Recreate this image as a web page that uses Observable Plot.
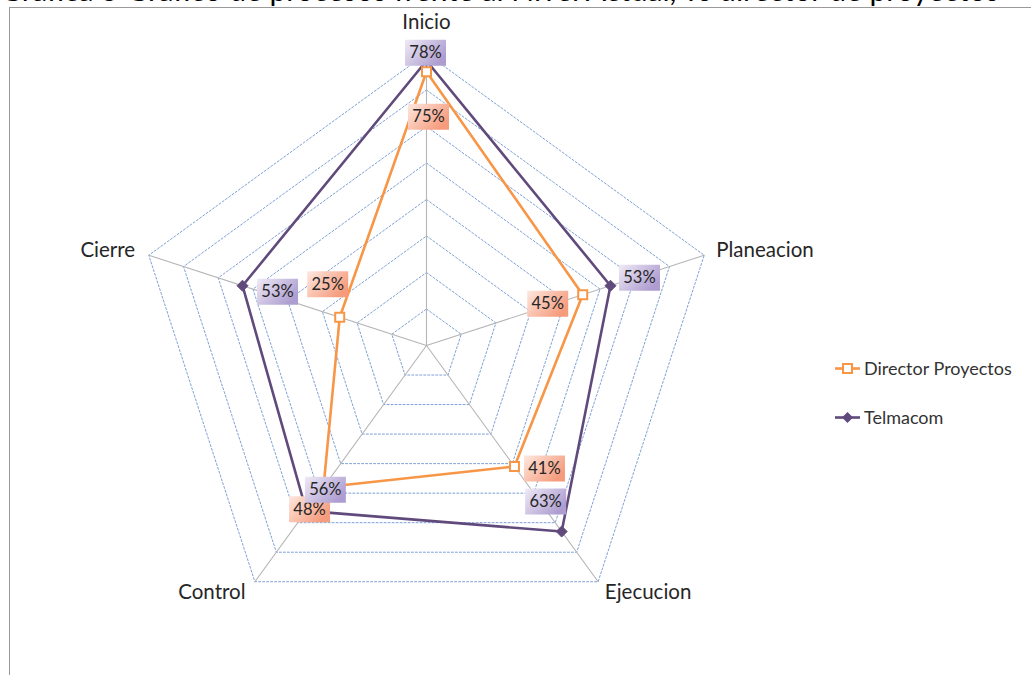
<!DOCTYPE html>
<html>
<head>
<meta charset="utf-8">
<script src="https://cdn.jsdelivr.net/npm/d3@7"></script>
<script src="https://cdn.jsdelivr.net/npm/@observablehq/plot@0.6"></script>
<style>
  html, body { margin: 0; padding: 0; background: #fff; }
  body { width: 1031px; height: 675px; position: relative; overflow: hidden; font-family: Lato, "Open Sans", sans-serif; }
  #title { position: absolute; left: 0; top: -26px; width: 965px; line-height: 30px; text-align: right; white-space: nowrap; font-size: 30px; color: #000; }
  #frame { position: absolute; left: 9px; top: 7px; width: 1040px; height: 700px; border-top: 1.5px solid #9a9a9a; border-left: 1.5px solid #9a9a9a; background: #fff; }
  #chart { position: absolute; left: 0; top: 0; }
  #legend { position: absolute; left: 835px; top: 356px; font-size: 18px; color: #333; }
  #legend .row { display: flex; align-items: center; height: 24px; margin-bottom: 25px; }
  #legend svg { margin-right: 4px; }
</style>
</head>
<body>
<div id="title">Gráfica 5 Gráfico de procesos frente al Nivel Actual, vs director de proyectos</div>
<div id="frame"></div>
<div id="chart"></div>
<div id="legend"></div>
<script>
// ---- data ----
const categories = ["Inicio", "Planeacion", "Ejecucion", "Control", "Cierre"];
const directorValues = [0.75, 0.45, 0.41, 0.48, 0.25];
const telmacomValues = [0.78, 0.53, 0.63, 0.56, 0.53];
const seriesNames = ["Director Proyectos", "Telmacom"];
const gridLevels = [0.1, 0.2, 0.3, 0.4, 0.5, 0.6, 0.7, 0.8];
const axisMax = 0.8;

// ---- layout (pixels) ----
const W = 1031, H = 675, cx = 426, cy = 345, R = 292;
const k = R / axisMax;
const colors = {director: "#f79646", telmacom: "#604a7b"};

const angle = i => Math.PI / 2 - i * 2 * Math.PI / categories.length;
const pt = (v, i) => ({x: v * Math.cos(angle(i)), y: v * Math.sin(angle(i))});

const ring = lvl => [...categories, categories[0]].map((c, i) => ({...pt(lvl, i % categories.length), lvl}));
const gridData = gridLevels.flatMap(ring);
const spokes = categories.flatMap((c, i) => [{...pt(0, i), c}, {...pt(axisMax, i), c}]);

const mkSeries = (vals, name) => vals.map((v, i) => ({...pt(v, i), v, cat: categories[i], name}));
const dir = mkSeries(directorValues, seriesNames[0]);
const tel = mkSeries(telmacomValues, seriesNames[1]);
const closed = arr => [...arr, arr[0]];

const squareSym = {draw(ctx) { ctx.rect(-4.5, -4.5, 9, 9); }};
const diamondSym = {draw(ctx) { ctx.moveTo(0, -5.5); ctx.lineTo(5.5, 0); ctx.lineTo(0, 5.5); ctx.lineTo(-5.5, 0); ctx.closePath(); }};
const boxSym = {draw(ctx) { ctx.rect(-20.5, -13, 41, 26); }};

const dirOffsets = [[2, 45], [-35, 9], [30, 2], [-14, 22], [-12, -33]];
const telOffsets = [[-1, -8], [29, -8], [-16, -30], [19, -21], [35, 6]];
const catOffsets = [[0, -31, "middle"], [12, -5, "start"], [50, 11, "middle"], [-43, 11, "middle"], [-41, -5, "middle"]];

const defs = () => {
  const ns = "http://www.w3.org/2000/svg";
  const d = document.createElementNS(ns, "defs");
  const mk = (id, c1, c2) => {
    const g = document.createElementNS(ns, "linearGradient");
    g.setAttribute("id", id);
    g.setAttribute("x1", "0"); g.setAttribute("y1", "0");
    g.setAttribute("x2", "1"); g.setAttribute("y2", "0.6");
    [[0, c1], [1, c2]].forEach(([o, c]) => {
      const s = document.createElementNS(ns, "stop");
      s.setAttribute("offset", o); s.setAttribute("stop-color", c);
      g.appendChild(s);
    });
    d.appendChild(g);
  };
  mk("gradPurple", "#efeaf6", "#ad9dd0");
  mk("gradOrange", "#fde8e0", "#f69b7c");
  return d;
};

const labelMarks = [];
[[dir, dirOffsets, "url(#gradOrange)"], [tel, telOffsets, "url(#gradPurple)"]].forEach(([data, offs, fill]) => {
  data.forEach((d, i) => {
    const [dx, dy] = offs[i];
    labelMarks.push(Plot.dot([d], {x: "x", y: "y", dx, dy, symbol: boxSym, fill, stroke: "none", r: 5}));
    labelMarks.push(Plot.text([d], {x: "x", y: "y", dx, dy, text: v => Math.round(v.v * 100) + "%", fontSize: 16.5, fill: "#262626", fontFamily: "Lato, sans-serif"}));
  });
});

const catMarks = categories.map((c, i) => {
  const [dx, dy, anchor] = catOffsets[i];
  return Plot.text([{...pt(axisMax, i), c}], {x: "x", y: "y", text: "c", dx, dy, textAnchor: anchor, fontSize: 20.5, fill: "#262626", fontFamily: "Lato, sans-serif"});
});

const chart = Plot.plot({
  width: W, height: H,
  margin: 0,
  x: {domain: [-cx / k, (W - cx) / k], axis: null},
  y: {domain: [-(H - cy) / k, cy / k], axis: null},
  style: {background: "transparent", overflow: "visible"},
  marks: [
    defs,
    Plot.line(gridData, {x: "x", y: "y", z: "lvl", stroke: "#6f95d0", strokeWidth: 0.9, strokeDasharray: "2,2"}),
    Plot.line(spokes, {x: "x", y: "y", z: "c", stroke: "#b5b5b5", strokeWidth: 1.1}),
    Plot.line(closed(dir), {x: "x", y: "y", stroke: colors.director, strokeWidth: 2.6}),
    Plot.line(closed(tel), {x: "x", y: "y", stroke: colors.telmacom, strokeWidth: 2.6}),
    Plot.dot(dir, {x: "x", y: "y", symbol: squareSym, fill: "white", stroke: colors.director, strokeWidth: 2, r: 5}),
    Plot.dot(tel, {x: "x", y: "y", symbol: diamondSym, fill: colors.telmacom, stroke: colors.telmacom, strokeWidth: 1, r: 5}),
    ...labelMarks,
    ...catMarks
  ]
});
document.getElementById("chart").appendChild(chart);

// legend
const legend = document.getElementById("legend");
const swatch = (color, kind) => {
  const marker = kind === "square"
    ? `<rect x="8" y="7" width="9" height="9" fill="white" stroke="${color}" stroke-width="2"/>`
    : `<path d="M12.5,6 L18,11.5 L12.5,17 L7,11.5 Z" fill="${color}"/>`;
  return `<svg width="25" height="23"><line x1="0" x2="25" y1="11.5" y2="11.5" stroke="${color}" stroke-width="2.6"/>${marker}</svg>`;
};
legend.innerHTML =
  `<div class="row">${swatch(colors.director, "square")}<span>${seriesNames[0]}</span></div>` +
  `<div class="row">${swatch(colors.telmacom, "diamond")}<span>${seriesNames[1]}</span></div>`;
</script>
</body>
</html>
